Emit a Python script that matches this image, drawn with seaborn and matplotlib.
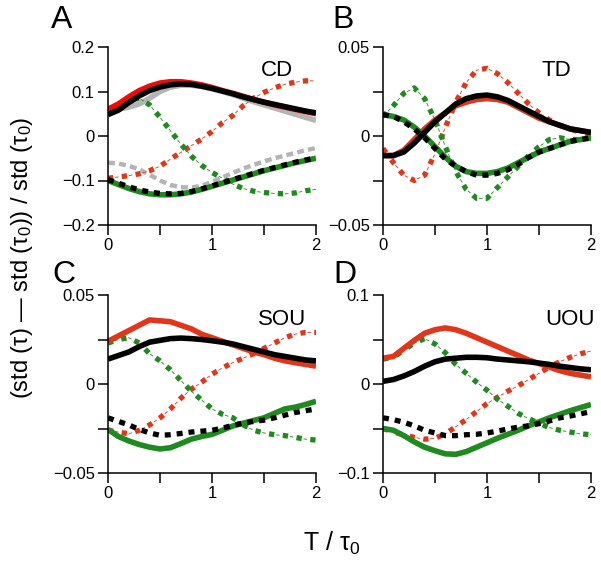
import numpy as np
import pandas as pd
import matplotlib
matplotlib.use("Agg")
import matplotlib.pyplot as plt
import seaborn as sns

# x grid (T / tau0)
t = [0.0, 0.1, 0.2, 0.3, 0.4, 0.5, 0.6, 0.7, 0.8, 0.9, 1.0,
     1.1, 1.2, 1.3, 1.4, 1.5, 1.6, 1.7, 1.8, 1.9, 2.0]

# ---- panel A : CD ----
a_red = [0.06, 0.072, 0.088, 0.102, 0.112, 0.119, 0.122, 0.122, 0.119, 0.115, 0.109,
         0.102, 0.096, 0.089, 0.082, 0.076, 0.07, 0.065, 0.06, 0.055, 0.05]
a_black = [0.048, 0.058, 0.075, 0.09, 0.102, 0.11, 0.115, 0.117, 0.116, 0.112, 0.107,
           0.101, 0.095, 0.088, 0.082, 0.076, 0.071, 0.066, 0.061, 0.056, 0.052]
a_gray = [0.05, 0.06, 0.065, 0.072, 0.085, 0.1, 0.11, 0.114, 0.114, 0.111, 0.106,
          0.1, 0.093, 0.085, 0.077, 0.07, 0.063, 0.056, 0.049, 0.042, 0.035]
a_green_dd = [0.06, 0.07, 0.08, 0.085, 0.07, 0.042, 0.012, -0.018, -0.045, -0.066, -0.082,
              -0.095, -0.108, -0.118, -0.124, -0.127, -0.129, -0.13, -0.128, -0.123, -0.12]
a_red_dd = [-0.095, -0.092, -0.089, -0.085, -0.078, -0.068, -0.052, -0.037, -0.022, -0.007, 0.01,
            0.03, 0.046, 0.068, 0.085, 0.098, 0.108, 0.116, 0.121, 0.124, 0.124]
a_gray_dash = [-0.06, -0.062, -0.067, -0.075, -0.087, -0.1, -0.11, -0.115, -0.116, -0.112, -0.103,
               -0.093, -0.083, -0.073, -0.065, -0.057, -0.05, -0.044, -0.038, -0.032, -0.027]
a_black_dot = [-0.098, -0.106, -0.114, -0.121, -0.126, -0.129, -0.13, -0.129, -0.125, -0.119, -0.112,
               -0.105, -0.098, -0.091, -0.084, -0.077, -0.071, -0.065, -0.059, -0.054, -0.049]
a_green = [-0.1, -0.109, -0.118, -0.125, -0.13, -0.132, -0.132, -0.13, -0.126, -0.12, -0.113,
           -0.106, -0.099, -0.092, -0.085, -0.078, -0.072, -0.066, -0.06, -0.055, -0.05]

# ---- panel B : TD ----
b_red = [-0.011, -0.011, -0.008, -0.002, 0.004, 0.009, 0.013, 0.017, 0.019, 0.0205, 0.021,
         0.0205, 0.019, 0.016, 0.013, 0.01, 0.008, 0.006, 0.004, 0.003, 0.002]
b_black = [-0.011, -0.011, -0.009, -0.004, 0.002, 0.008, 0.013, 0.018, 0.021, 0.0225, 0.023,
           0.022, 0.02, 0.017, 0.014, 0.011, 0.008, 0.006, 0.004, 0.003, 0.002]
b_green_dd = [0.011, 0.017, 0.024, 0.027, 0.021, 0.009, -0.006, -0.02, -0.03, -0.035, -0.035,
              -0.029, -0.023, -0.017, -0.011, -0.006, -0.002, -0.001, -0.002, -0.002, -0.001]
b_red_dd = [-0.007, -0.015, -0.022, -0.025, -0.022, -0.01, 0.005, 0.019, 0.03, 0.037, 0.038,
            0.035, 0.03, 0.024, 0.018, 0.013, 0.009, 0.006, 0.004, 0.002, 0.001]
b_black_dot = [0.012, 0.011, 0.008, 0.004, -0.001, -0.007, -0.013, -0.017, -0.02, -0.022, -0.022,
               -0.021, -0.019, -0.016, -0.012, -0.009, -0.007, -0.005, -0.003, -0.002, -0.001]
b_green = [0.012, 0.011, 0.009, 0.005, 0.0, -0.006, -0.012, -0.017, -0.02, -0.021, -0.021,
           -0.02, -0.018, -0.015, -0.012, -0.009, -0.007, -0.005, -0.003, -0.002, -0.001]

# ---- panel C : SOU ----
c_red = [0.024, 0.027, 0.03, 0.033, 0.036, 0.0355, 0.035, 0.033, 0.031, 0.028, 0.026,
         0.024, 0.022, 0.02, 0.018, 0.0165, 0.0145, 0.013, 0.012, 0.011, 0.01]
c_black = [0.014, 0.016, 0.018, 0.021, 0.0235, 0.0245, 0.0255, 0.0258, 0.0255, 0.025, 0.0243,
           0.0235, 0.0225, 0.021, 0.0195, 0.018, 0.0165, 0.0155, 0.0145, 0.0135, 0.013]
c_green_dd = [0.023, 0.025, 0.026, 0.023, 0.017, 0.013, 0.008, 0.002, -0.004, -0.009, -0.014,
              -0.017, -0.019, -0.023, -0.026, -0.0275, -0.0285, -0.029, -0.03, -0.031, -0.0315]
c_red_dd = [-0.026, -0.027, -0.028, -0.026, -0.023, -0.019, -0.014, -0.008, -0.003, 0.001, 0.0055,
            0.009, 0.012, 0.0145, 0.017, 0.02, 0.023, 0.026, 0.028, 0.029, 0.029]
c_black_dot = [-0.019, -0.021, -0.023, -0.0255, -0.0275, -0.0288, -0.0285, -0.0278, -0.027, -0.0265, -0.026,
               -0.0248, -0.0232, -0.022, -0.021, -0.0203, -0.019, -0.0175, -0.016, -0.015, -0.014]
c_green = [-0.0255, -0.0295, -0.032, -0.034, -0.0355, -0.0365, -0.0358, -0.0335, -0.031, -0.0295, -0.0283,
           -0.026, -0.0236, -0.022, -0.0205, -0.019, -0.0165, -0.014, -0.013, -0.0115, -0.0097]

# ---- panel D : UOU ----
d_red = [0.029, 0.031, 0.04, 0.049, 0.057, 0.061, 0.063, 0.061, 0.057, 0.052, 0.047,
         0.042, 0.037, 0.032, 0.027, 0.023, 0.019, 0.015, 0.012, 0.01, 0.008]
d_black = [0.003, 0.005, 0.009, 0.014, 0.02, 0.025, 0.028, 0.029, 0.03, 0.03, 0.0295,
           0.028, 0.027, 0.026, 0.025, 0.0235, 0.022, 0.02, 0.0185, 0.017, 0.016]
d_green_dd = [0.028, 0.03, 0.038, 0.046, 0.051, 0.045, 0.035, 0.022, 0.012, 0.002, -0.007,
              -0.017, -0.025, -0.033, -0.039, -0.044, -0.049, -0.052, -0.054, -0.056, -0.057]
d_red_dd = [-0.05, -0.054, -0.057, -0.06, -0.062, -0.061, -0.056, -0.048, -0.04, -0.031, -0.022,
            -0.015, -0.008, -0.002, 0.005, 0.012, 0.019, 0.025, 0.03, 0.034, 0.037]
d_black_dot = [-0.038, -0.04, -0.043, -0.047, -0.052, -0.055, -0.058, -0.058, -0.057, -0.0565, -0.055,
               -0.053, -0.0505, -0.0485, -0.047, -0.0445, -0.0415, -0.038, -0.036, -0.0335, -0.031]
d_green = [-0.05, -0.052, -0.058, -0.065, -0.071, -0.075, -0.0785, -0.079, -0.076, -0.071, -0.066,
           -0.061, -0.0565, -0.052, -0.047, -0.0425, -0.038, -0.034, -0.03, -0.0265, -0.023]

# colours
RED_A = "#f00a0a"
RED = "#e2361a"
GREEN = "#1f8a1f"
GRAY = "#b4b4b4"
BLACK = "#000000"

sns.set_style("ticks")
plt.rcParams["font.family"] = ["Liberation Sans", "DejaVu Sans"]
plt.rcParams["mathtext.fontset"] = "custom"
plt.rcParams["mathtext.rm"] = "Liberation Sans"
plt.rcParams["mathtext.it"] = "Liberation Sans"
plt.rcParams["lines.scale_dashes"] = False
plt.rcParams["axes.unicode_minus"] = True
plt.rcParams["text.color"] = "black"
plt.rcParams["xtick.color"] = "black"
plt.rcParams["ytick.color"] = "black"
plt.rcParams["axes.labelcolor"] = "black"

fig = plt.figure(figsize=(6.01, 5.61), dpi=100)

W = 208 / 601
H = 178 / 561
positions = {
    "A": (108 / 601, 1 - 225 / 561),
    "B": (383 / 601, 1 - 225 / 561),
    "C": (108 / 601, 1 - 473 / 561),
    "D": (383 / 601, 1 - 473 / 561),
}


def draw(ax, y, color, kind):
    if kind == "solid":
        sns.lineplot(x=t, y=y, ax=ax, color=color, lw=4.0, linestyle="-",
                     estimator=None, sort=False, legend=False, solid_capstyle="butt")
    elif kind == "dot":
        sns.lineplot(x=t, y=y, ax=ax, color=color, lw=3.8, linestyle=(0, (4.3, 4.3)),
                     estimator=None, sort=False, legend=False)
    elif kind == "dash":
        sns.lineplot(x=t, y=y, ax=ax, color=color, lw=3.2, linestyle=(0, (5.0, 3.0)),
                     estimator=None, sort=False, legend=False)
    elif kind == "dashdot":
        # thick square dots with a thin dash in between
        sns.lineplot(x=t, y=y, ax=ax, color=color, lw=3.8, linestyle=(0, (3.8, 6.2)),
                     estimator=None, sort=False, legend=False)
        sns.lineplot(x=t, y=y, ax=ax, color=color, lw=0.6, linestyle=(4.9, (2.6, 7.4)),
                     estimator=None, sort=False, legend=False)


panels = {
    "A": dict(label="CD", lim=0.2,
              major=[-0.2, -0.1, 0, 0.1, 0.2], minor=[],
              ticklabels=["\u22120.2", "\u22120.1", "0", "0.1", "0.2"],
              text=(0.889, 0.837),
              series=[(a_gray, GRAY, "solid"), (a_gray_dash, GRAY, "dash"),
                      (a_red_dd, RED, "dashdot"), (a_green_dd, GREEN, "dashdot"),
                      (a_green, GREEN, "solid"), (a_black_dot, BLACK, "dot"),
                      (a_red, RED_A, "solid"), (a_black, BLACK, "solid")]),
    "B": dict(label="TD", lim=0.05,
              major=[-0.05, 0, 0.05], minor=[-0.025, 0.025],
              ticklabels=["\u22120.05", "0", "0.05"],
              text=(0.904, 0.837),
              series=[(b_red_dd, RED, "dashdot"), (b_green_dd, GREEN, "dashdot"),
                      (b_red, RED, "solid"), (b_green, GREEN, "solid"),
                      (b_black_dot, BLACK, "dot"), (b_black, BLACK, "solid")]),
    "C": dict(label="SOU", lim=0.05,
              major=[-0.05, 0, 0.05], minor=[-0.025, 0.025],
              ticklabels=["\u22120.05", "0", "0.05"],
              text=(0.952, 0.831),
              series=[(c_red_dd, RED, "dashdot"), (c_green_dd, GREEN, "dashdot"),
                      (c_green, GREEN, "solid"), (c_black_dot, BLACK, "dot"),
                      (c_red, RED, "solid"), (c_black, BLACK, "solid")]),
    "D": dict(label="UOU", lim=0.1,
              major=[-0.1, 0, 0.1], minor=[-0.05, 0.05],
              ticklabels=["\u22120.1", "0", "0.1"],
              text=(1.019, 0.831),
              series=[(d_red_dd, RED, "dashdot"), (d_green_dd, GREEN, "dashdot"),
                      (d_green, GREEN, "solid"), (d_black_dot, BLACK, "dot"),
                      (d_red, RED, "solid"), (d_black, BLACK, "solid")]),
}

letter_pos = {"A": (51, 28), "B": (332, 28), "C": (52, 283), "D": (333, 283)}

for key, p in panels.items():
    left, bottom = positions[key]
    ax = fig.add_axes([left, bottom, W, H])
    for y, color, kind in p["series"]:
        draw(ax, y, color, kind)

    ax.set_xlim(0, 2)
    ax.set_ylim(-p["lim"], p["lim"])
    sns.despine(ax=ax)
    for s in ["left", "bottom"]:
        ax.spines[s].set_linewidth(1.1)
        ax.spines[s].set_color("black")

    ax.set_xticks([0, 1, 2])
    ax.set_xticklabels(["0", "1", "2"])
    ax.set_xticks([0.5, 1.5], minor=True)
    ax.set_yticks(p["major"])
    ax.set_yticklabels(p["ticklabels"])
    ax.set_yticks(p["minor"], minor=True)
    ax.tick_params(which="both", direction="out", length=7, width=1.1,
                   color="black", labelcolor="black", labelsize=12, pad=2.5)
    ax.set_xlabel("")
    ax.set_ylabel("")
    ax.grid(False)

    ax.text(p["text"][0], p["text"][1], p["label"], transform=ax.transAxes,
            ha="right", va="baseline", fontsize=16)

    lx, ly = letter_pos[key]
    fig.text(lx / 601, 1 - ly / 561, key, ha="left", va="baseline", fontsize=23)

fig.text(0.036, 0.54, r"(std (τ) — std (τ$_0$)) / std (τ$_0$)", rotation=90,
         ha="center", va="center", fontsize=17)
fig.text(0.552, 0.032, r"T / τ$_0$", ha="center", va="center", fontsize=18)

fig.savefig("out.png", dpi=100)
